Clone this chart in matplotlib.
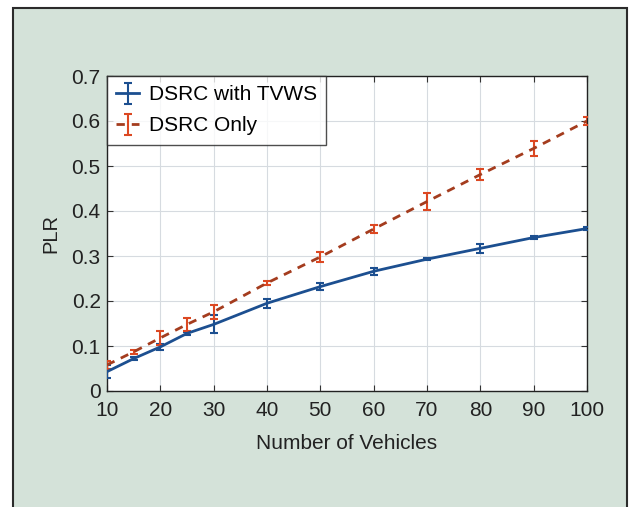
import numpy as np
import matplotlib
matplotlib.use('Agg')
import matplotlib.pyplot as plt
from matplotlib.patches import Rectangle

plt.rcParams['font.family'] = ['Liberation Sans', 'DejaVu Sans']

# number of vehicles
vehicles = [10, 15, 20, 25, 30, 40, 50, 60, 70, 80, 90, 100]

# DSRC with TVWS
plr_tvws = [0.043, 0.072, 0.098, 0.128, 0.148, 0.195, 0.232, 0.266, 0.293, 0.317, 0.341, 0.361]
err_tvws = [0.015, 0.003, 0.007, 0.004, 0.020, 0.010, 0.007, 0.008, 0.002, 0.010, 0.003, 0.003]

# DSRC only
plr_dsrc = [0.058, 0.087, 0.118, 0.148, 0.176, 0.240, 0.298, 0.360, 0.421, 0.481, 0.539, 0.600]
err_dsrc = [0.008, 0.004, 0.015, 0.015, 0.016, 0.004, 0.012, 0.008, 0.019, 0.012, 0.017, 0.008]

fig = plt.figure(figsize=(6.38, 5.07), dpi=100)
fig.patches.append(Rectangle((13/638, -0.02), 614/638, (507-8)/507 + 0.02,
                             transform=fig.transFigure, facecolor='#d4e2d9',
                             edgecolor='#2b2b2b', linewidth=1.5, zorder=-1))
ax = fig.add_axes([107/638, 1 - 391/507, 480/638, 315/507])

ax.errorbar(vehicles, plr_tvws, yerr=err_tvws, fmt='-', color='#1c4f90', ecolor='#1c4f90',
            linewidth=2, elinewidth=1.5, capsize=3, capthick=1.5, label='DSRC with TVWS', zorder=3)
ax.errorbar(vehicles, plr_dsrc, yerr=err_dsrc, fmt='--', color='#a43c1e', ecolor='#dc4822',
            linewidth=2, elinewidth=1.5, capsize=3, capthick=1.5, dashes=(3, 2.5),
            label='DSRC Only', zorder=3)

ax.set_xlim(10, 100)
ax.set_ylim(0, 0.7)
ax.set_xticks(np.arange(10, 101, 10))
ax.set_yticks(np.arange(0, 0.71, 0.1))
ax.set_yticklabels(['0', '0.1', '0.2', '0.3', '0.4', '0.5', '0.6', '0.7'])
ax.grid(True, color='#d6dbe0', linewidth=0.8)
ax.set_axisbelow(True)
ax.tick_params(direction='in', top=True, right=True, labelsize=15, length=4,
               color='#333333', labelcolor='#222222')
ax.tick_params(axis='x', pad=7)
ax.tick_params(axis='y', pad=4.5)
for s in ax.spines.values():
    s.set_linewidth(1.0)
    s.set_color('#222222')

ax.set_xlabel('Number of Vehicles', fontsize=15, color='#222222', labelpad=10.5)
ax.set_ylabel('PLR', fontsize=14.5, color='#222222', labelpad=8)

leg = ax.legend(loc='upper left', fontsize=15, frameon=True, fancybox=False,
                borderaxespad=0, handlelength=1.1, handletextpad=0.45,
                borderpad=0.45, labelspacing=0.58)
leg.get_frame().set_edgecolor('#222222')
leg.get_frame().set_linewidth(1.0)
cols = ['#1a8cc4', '#d8502e']
for h, c in zip(leg.legend_handles, cols):
    for child in h.get_children():
        try:
            child.set_color(c)
        except Exception:
            pass

fig.savefig('out.png', dpi=100)
